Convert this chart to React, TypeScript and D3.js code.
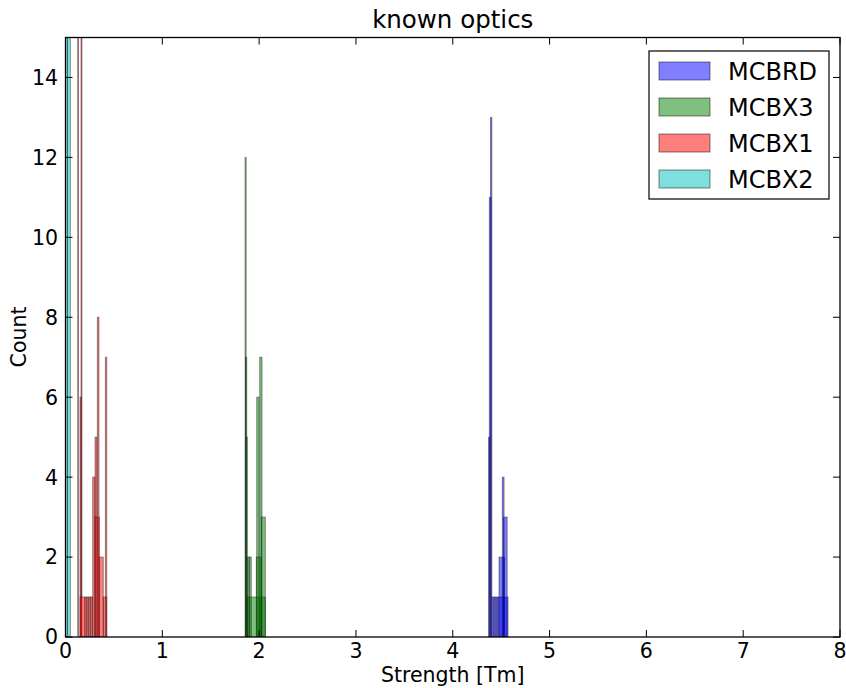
import React from "react";
import * as d3 from "d3";

type Bin = [number, number, number]; // [start Tm, end Tm, count]

const seriesNames = ["MCBRD", "MCBX3", "MCBX1", "MCBX2"];
const seriesColors = ["#0000ff", "#008000", "#ff0000", "#00bfbf"];

const mcbrdBins: Bin[] = [
  [4.390, 4.404, 13],
  [4.378, 4.396, 11],
  [4.370, 4.384, 5],
  [4.404, 4.426, 1],
  [4.426, 4.447, 1],
  [4.447, 4.468, 1],
  [4.468, 4.571, 1],
  [4.478, 4.535, 2],
  [4.512, 4.530, 4],
  [4.525, 4.562, 3],
];

const mcbx3Bins: Bin[] = [
  [1.855, 1.866, 12],
  [1.860, 1.872, 7],
  [1.864, 1.878, 5],
  [1.876, 2.064, 1],
  [1.878, 1.898, 2],
  [1.898, 1.919, 2],
  [1.975, 1.999, 6],
  [1.971, 2.023, 2],
  [2.006, 2.030, 7],
  [2.023, 2.064, 3],
];

const mcbx1Bins: Bin[] = [
  [0.126, 0.134, 20],
  [0.150, 0.163, 6],
  [0.160, 0.170, 20],
  [0.150, 0.201, 1],
  [0.201, 0.221, 1],
  [0.221, 0.241, 1],
  [0.241, 0.261, 1],
  [0.261, 0.281, 1],
  [0.281, 0.305, 4],
  [0.305, 0.325, 5],
  [0.305, 0.349, 3],
  [0.329, 0.346, 8],
  [0.349, 0.390, 2],
  [0.390, 0.426, 1],
  [0.412, 0.426, 7],
];

const mcbx2Bins: Bin[] = [
  [0.000, 0.020, 20],
  [0.020, 0.050, 20],
];

const seriesBins = [mcbrdBins, mcbx3Bins, mcbx1Bins, mcbx2Bins];

const xTicks = [0, 1, 2, 3, 4, 5, 6, 7, 8];
const yTicks = [0, 2, 4, 6, 8, 10, 12, 14];

const titleText = "known optics";
const xLabelText = "Strength [Tm]";
const yLabelText = "Count";

export default function App() {
  const W = 846;
  const H = 688;
  const left = 65.5;
  const right = 840;
  const top = 37.5;
  const bottom = 637;
  const font = "DejaVu Sans, Bitstream Vera Sans, sans-serif";

  const x = d3.scaleLinear().domain([0, 8]).range([left, right]);
  const y = d3.scaleLinear().domain([0, 15]).range([bottom, top]);
  const cx = (left + right) / 2;
  const tickLen = 7;

  const legendX = 649;
  const legendY = 51;
  const legendRow = d3.scaleBand().domain(seriesNames).range([legendY + 2, legendY + 146]);

  return (
    <svg
      width={W}
      height={H}
      style={{ position: "absolute", left: 0, top: 0, background: "#fff" }}
      fontFamily={font}
    >
      <defs>
        <clipPath id="plotClip">
          <rect x={left} y={top} width={right - left} height={bottom - top} />
        </clipPath>
      </defs>
      <rect x={0} y={0} width={W} height={H} fill="#fff" />
      <g clipPath="url(#plotClip)">
        {seriesBins.map((bins, si) => (
          <g key={seriesNames[si]}>
            {bins.map((b, i) => (
              <rect
                key={i}
                x={x(b[0])}
                y={y(b[2])}
                width={Math.max(0.5, x(b[1]) - x(b[0]))}
                height={y(0) - y(b[2])}
                fill={seriesColors[si]}
                fillOpacity={0.5}
                stroke="#000"
                strokeOpacity={0.4}
                strokeWidth={1}
              />
            ))}
          </g>
        ))}
      </g>
      {/* axes frame */}
      <rect x={left} y={top} width={right - left} height={bottom - top} fill="none" stroke="#000" strokeWidth={1.3} />
      {/* x ticks */}
      {xTicks.map((t) => (
        <g key={"x" + t}>
          <line x1={x(t)} x2={x(t)} y1={bottom} y2={bottom - tickLen} stroke="#000" strokeWidth={1} />
          <line x1={x(t)} x2={x(t)} y1={top} y2={top + tickLen} stroke="#000" strokeWidth={1} />
          <text x={x(t)} y={658} textAnchor="middle" fontSize={20.5} fill="#000">
            {t}
          </text>
        </g>
      ))}
      {/* y ticks */}
      {yTicks.map((t) => (
        <g key={"y" + t}>
          <line x1={left} x2={left + tickLen} y1={y(t)} y2={y(t)} stroke="#000" strokeWidth={1} />
          <line x1={right} x2={right - tickLen} y1={y(t)} y2={y(t)} stroke="#000" strokeWidth={1} />
          <text x={58} y={y(t)} dy="0.36em" textAnchor="end" fontSize={20.5} fill="#000">
            {t}
          </text>
        </g>
      ))}
      <text x={cx} y={28} textAnchor="middle" fontSize={24.5} fill="#000">
        {titleText}
      </text>
      <text x={cx} y={682} textAnchor="middle" fontSize={20.5} fill="#000">
        {xLabelText}
      </text>
      <text
        transform={`translate(26, 337) rotate(-90)`}
        textAnchor="middle"
        fontSize={20.5}
        fill="#000"
      >
        {yLabelText}
      </text>
      {/* legend */}
      <rect x={legendX} y={legendY} width={180} height={148} fill="#fff" stroke="#000" strokeWidth={1.2} />
      {seriesNames.map((name, i) => {
        const cy = (legendRow(name) as number) + legendRow.bandwidth() / 2;
        return (
          <g key={name}>
            <rect
              x={659}
              y={cy - 9}
              width={51}
              height={18}
              fill={seriesColors[i]}
              fillOpacity={0.5}
              stroke="#000"
              strokeOpacity={0.4}
              strokeWidth={1.2}
            />
            <text x={728} y={cy} dy="0.36em" fontSize={24} fill="#000">
              {name}
            </text>
          </g>
        );
      })}
    </svg>
  );
}
